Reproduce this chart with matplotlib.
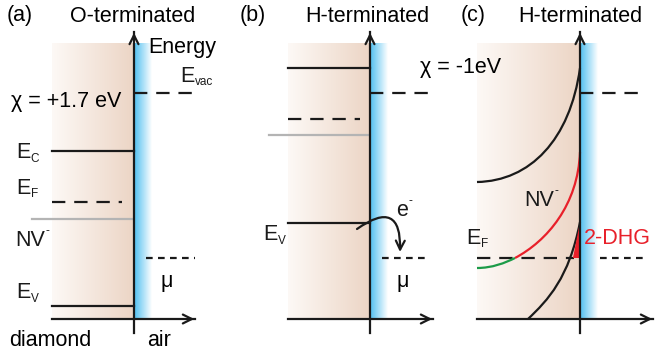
import numpy as np
import matplotlib.pyplot as plt
from matplotlib.path import Path
from matplotlib.patches import PathPatch, Polygon
from matplotlib.colors import LinearSegmentedColormap

plt.rcParams['font.family'] = ['Liberation Sans', 'DejaVu Sans']

# --- schematic values (pixel coordinates of the figure, y grows downward) ---
panel_axis_x = [134, 370, 580]          # surface (vertical energy axis) of panels a, b, c
panel_left_x = [52, 288, 477]           # left edge of diamond region
panel_right_x = [197, 435, 655]         # end of horizontal arrow
axis_top_y = 30
axis_bottom_y = 333
base_y = 319

# panel (a) levels
a_vac, a_ec, a_ef, a_nv, a_mu, a_ev = 93, 151, 202, 219, 258, 306
# panel (b) levels
b_ec, b_vac, b_ef, b_nv, b_ev, b_mu = 68, 93, 119, 135, 223, 258
# panel (c) band-bending curves (Bezier control points)
c_cb = [(477, 182), (530, 181), (570, 140), (580, 68)]
c_nv = [(515, 258), (547, 241), (578, 205), (580, 152)]
c_nv_green = [(477, 268), (492, 268), (505, 263), (515, 258)]
c_vb = [(528, 319), (548, 300), (569, 278), (580, 222)]
c_vac, c_ef = 93, 258

fig = plt.figure(figsize=(6.58, 3.55), dpi=100)
ax = fig.add_axes([0, 0, 1, 1])
ax.set_xlim(0, 658)
ax.set_ylim(355, 0)
ax.axis('off')

tan = LinearSegmentedColormap.from_list('tan', ['#fdf9f6', '#ecd5c5'])
blue = LinearSegmentedColormap.from_list('blue', ['#4fbff0', '#ffffff'])
grad = np.linspace(0, 1, 256).reshape(1, -1)

K = '#1a1a1a'
RED = '#e8202a'
LW = 1.6
FS = 15.5


def sub_text(x, y, main, sub, color=K, sup=False):
    t = ax.text(x, y, main, fontsize=FS, color=color, va='center', ha='left')
    fig.canvas.draw()
    w = t.get_window_extent().width
    dy = -9 if sup else 6
    ax.text(x + w + 0.5, y + dy, sub, fontsize=8.5, color=color, va='center', ha='left')


def bezier(pts, color, lw=LW):
    p = Path(pts, [Path.MOVETO, Path.CURVE4, Path.CURVE4, Path.CURVE4])
    ax.add_patch(PathPatch(p, fill=False, edgecolor=color, lw=lw, capstyle='butt', zorder=3))
    return p


for i in range(3):
    x0, xa, x1 = panel_left_x[i], panel_axis_x[i], panel_right_x[i]
    ax.imshow(grad, cmap=tan, extent=(x0, xa, base_y, 43), aspect='auto', zorder=0)
    ax.imshow(grad, cmap=blue, extent=(xa, xa + 18, base_y, 43), aspect='auto', zorder=0)
    ax.plot([xa, xa], [axis_bottom_y, axis_top_y + 2], color=K, lw=LW, zorder=5)
    ax.annotate('', xy=(xa, axis_top_y), xytext=(xa, axis_top_y + 12),
                arrowprops=dict(arrowstyle='->', color=K, lw=LW, mutation_scale=16), zorder=5)
    ax.plot([x0, x1 - 2], [base_y, base_y], color=K, lw=LW, zorder=5)
    ax.annotate('', xy=(x1, base_y), xytext=(x1 - 12, base_y),
                arrowprops=dict(arrowstyle='->', color=K, lw=LW, mutation_scale=16), zorder=5)

dash = (0, (6, 4))
dot = (0, (3, 2.4))

# ---- panel (a) ----
xa = panel_axis_x[0]
ax.plot([xa, 195], [a_vac, a_vac], color=K, lw=LW, ls=dash)
ax.plot([52, xa], [a_ec, a_ec], color=K, lw=LW)
ax.plot([52, 122], [a_ef, a_ef], color=K, lw=LW, ls=dash)
ax.plot([32, xa], [a_nv, a_nv], color='#b4b4b4', lw=LW)
ax.plot([146, 195], [a_mu, a_mu], color=K, lw=LW, ls=dot)
ax.plot([52, xa], [a_ev, a_ev], color=K, lw=LW)

ax.text(7, 16, '(a)', fontsize=FS, va='center')
ax.text(133, 16, 'O-terminated', fontsize=FS, va='center', ha='center')
ax.text(148, 48, 'Energy', fontsize=FS, va='center')
sub_text(180, 76, 'E', 'vac')
ax.text(11, 101, 'χ = +1.7 eV', fontsize=FS, va='center')
sub_text(16, 153, 'E', 'C')
sub_text(16, 188, 'E', 'F')
sub_text(15, 240, 'NV', '-', sup=True)
ax.text(160, 281, 'μ', fontsize=FS, va='center')
sub_text(16, 293, 'E', 'V')
ax.text(9, 340, 'diamond', fontsize=FS, va='center')
ax.text(147, 340, 'air', fontsize=FS, va='center')

# ---- panel (b) ----
xb = panel_axis_x[1]
ax.plot([288, xb], [b_ec, b_ec], color=K, lw=LW)
ax.plot([xb, 433], [b_vac, b_vac], color=K, lw=LW, ls=dash)
ax.plot([288, 360], [b_ef, b_ef], color=K, lw=LW, ls=dash)
ax.plot([269, xb], [b_nv, b_nv], color='#b4b4b4', lw=LW)
ax.plot([288, xb], [b_ev, b_ev], color=K, lw=LW)
ax.plot([382, 430], [b_mu, b_mu], color=K, lw=LW, ls=dot)
ax.annotate('', xy=(400, 252), xytext=(357, 229),
            arrowprops=dict(arrowstyle='->', color=K, lw=LW, mutation_scale=16,
                            connectionstyle='arc3,rad=-1.0', shrinkA=0, shrinkB=0), zorder=6)

ax.text(240, 16, '(b)', fontsize=FS, va='center')
ax.text(367, 16, 'H-terminated', fontsize=FS, va='center', ha='center')
ax.text(420, 67, 'χ = -1eV', fontsize=FS, va='center')
sub_text(263, 235, 'E', 'V')
sub_text(396, 210, 'e', '-', sup=True)
ax.text(397, 282, 'μ', fontsize=FS, va='center')

# ---- panel (c) ----
xc = panel_axis_x[2]
ax.plot([xc, 645], [c_vac, c_vac], color=K, lw=LW, ls=dash)
bezier(c_cb, K)
bezier(c_nv, RED)
bezier(c_nv_green, '#1c9b48')
vb_path = bezier(c_vb, K)
ax.plot([477, 574], [c_ef, c_ef], color=K, lw=LW, ls=dash, zorder=2)
ax.plot([600, 648], [c_ef, c_ef], color=K, lw=LW, ls=dot)
# hole gas: part of the valence band lying above the Fermi level
vb_pts = vb_path.interpolated(80).vertices
hole = [(x, y) for x, y in vb_pts if y <= c_ef]
hole = [(hole[0][0], c_ef)] + hole + [(xc, c_ef)]
ax.add_patch(Polygon(hole, closed=True, color=RED, lw=0, zorder=4))

ax.text(461, 16, '(c)', fontsize=FS, va='center')
ax.text(580, 16, 'H-terminated', fontsize=FS, va='center', ha='center')
sub_text(524, 200, 'NV', '-', sup=True)
sub_text(466, 238, 'E', 'F')
ax.text(584, 238, '2-DHG', fontsize=FS, va='center', color=RED)

fig.savefig('out.png', dpi=100)
